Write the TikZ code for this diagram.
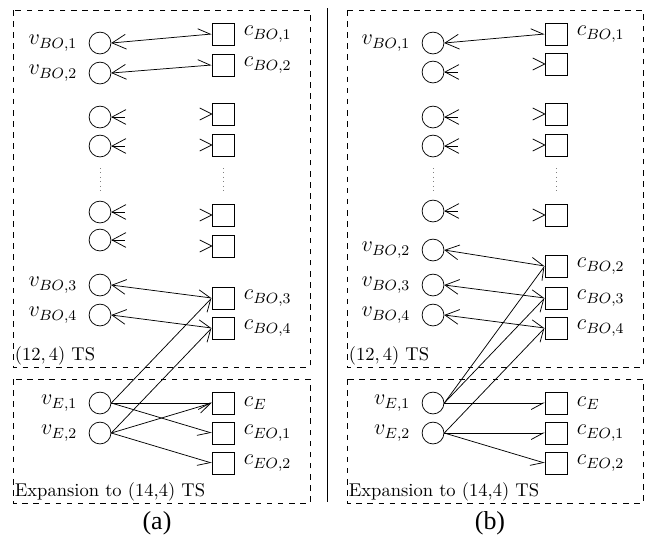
\documentclass[tikz,border=0pt]{standalone}
\usepackage{fontspec}
\newfontfamily\capfont{Liberation Serif}
\usetikzlibrary{arrows.meta}

\begin{document}
\begin{tikzpicture}[
  x=0.54pt, y=-0.54pt,
  every label/.style={font=\large, inner sep=2pt},
  var/.style={circle, draw, minimum size=11.8pt, inner sep=0pt},
  chk/.style={rectangle, draw, minimum size=11.8pt, inner sep=0pt},
  vlab/.style={label={[label distance=4pt]left:#1}},
  clab/.style={label={[label distance=3pt]right:#1}},
  box/.style={draw, dashed},
  boxtext/.style={anchor=south west, inner sep=0.8pt},
  caption/.style={font=\capfont\fontsize{14}{16}\selectfont},
  boedge/.style={{Straight Barb[harpoon, length=6.5pt, width=7pt]}-{Straight Barb[length=7.5pt, width=8pt]}},
  eedge/.style={-{Straight Barb[harpoon, swap, length=6.5pt, width=7pt]}},
  vstub/.style={{Straight Barb[length=7.5pt, width=8pt]}-}
]
  \useasboundingbox (0,0) rectangle (651,536);

  % panel (a)
  \draw[box] (13,10) coordinate (atl) rectangle (310,367) coordinate (abr);
  \draw[box] (13,379) coordinate (etl) rectangle (310,503) coordinate (ebr);
  \node[boxtext] (ats) at (atl |- abr) {$(12,4)$ TS};
  \node[boxtext] (aex) at (etl |- ebr) {Expansion to (14,4) TS};

  \foreach \n/\y in {1/43, 2/73, 3/285, 4/315}
    \node[var, vlab={$v_{BO,\n}$}] (av\n) at (100,\y) {};
  \foreach \n/\y in {1/117, 2/146, 3/212, 4/240}
    \node[var] (au\n) at (100,\y) {};
  \foreach \n/\y in {1/34, 2/65, 3/298, 4/328}
    \node[chk, clab={$c_{BO,\n}$}] (ac\n) at (223,\y) {};
  \foreach \n/\y in {1/114, 2/145, 3/215, 4/246}
    \node[chk] (ab\n) at (223,\y) {};
  \node[var, vlab={$v_{E,1}$}] (ae1) at (100,403) {};
  \node[var, vlab={$v_{E,2}$}] (ae2) at (100,433) {};
  \node[chk, clab={$c_{E}$}] (acE) at (223,403) {};
  \node[chk, clab={$c_{EO,1}$}] (acEO1) at (223,433) {};
  \node[chk, clab={$c_{EO,2}$}] (acEO2) at (223,463) {};

  \draw[dotted, gray] (100,168) -- (100,192);
  \draw[dotted, gray] (223,168) -- (223,192);

  \foreach \n in {1,...,4}{
    \draw[vstub] (au\n.east) -- ++(14,0);
    \draw (ab\n.west) -- ++(-12,-6) (ab\n.west) -- ++(-12,6);
    \draw[boedge] (ac\n.west) -- (av\n.east);
  }
  \foreach \s/\t in {ae1/ac3, ae1/acE, ae1/acEO1, ae2/ac4, ae2/acE, ae2/acEO2}
    \draw[eedge] (\s.east) -- (\t.west);

  \node[caption] (capa) at (157,523) {(a)};

  % separator
  \draw (327,8) -- (327,502);

  % panel (b)
  \draw[box] (347,10) coordinate (btl) rectangle (643,367) coordinate (bbr);
  \draw[box] (347,379) coordinate (ftl) rectangle (643,503) coordinate (fbr);
  \node[boxtext] (bts) at (btl |- bbr) {$(12,4)$ TS};
  \node[boxtext] (bex) at (ftl |- fbr) {Expansion to (14,4) TS};

  \foreach \n/\y in {1/43, 2/250, 3/285, 4/315}
    \node[var, vlab={$v_{BO,\n}$}] (bv\n) at (433,\y) {};
  \foreach \n/\y in {1/72, 2/117, 3/146, 4/211}
    \node[var] (bu\n) at (433,\y) {};
  \foreach \n/\y in {1/34, 2/266, 3/298, 4/328}
    \node[chk, clab={$c_{BO,\n}$}] (bc\n) at (556,\y) {};
  \foreach \n/\y in {1/64, 2/114, 3/145, 4/215}
    \node[chk] (bb\n) at (556,\y) {};
  \node[var, vlab={$v_{E,1}$}] (be1) at (433,403) {};
  \node[var, vlab={$v_{E,2}$}] (be2) at (433,433) {};
  \node[chk, clab={$c_{E}$}] (bcE) at (556,403) {};
  \node[chk, clab={$c_{EO,1}$}] (bcEO1) at (556,433) {};
  \node[chk, clab={$c_{EO,2}$}] (bcEO2) at (556,463) {};

  \draw[dotted, gray] (433,168) -- (433,192);
  \draw[dotted, gray] (556,168) -- (556,192);

  \foreach \n in {1,...,4}{
    \draw[vstub] (bu\n.east) -- ++(14,0);
    \draw (bb\n.west) -- ++(-12,-6) (bb\n.west) -- ++(-12,6);
    \draw[boedge] (bc\n.west) -- (bv\n.east);
  }
  \foreach \s/\t in {be1/bc2, be1/bc3, be1/bcE, be2/bc4, be2/bcEO1, be2/bcEO2}
    \draw[eedge] (\s.east) -- (\t.west);

  \node[caption] (capb) at (490,523) {(b)};
\end{tikzpicture}
\end{document}
